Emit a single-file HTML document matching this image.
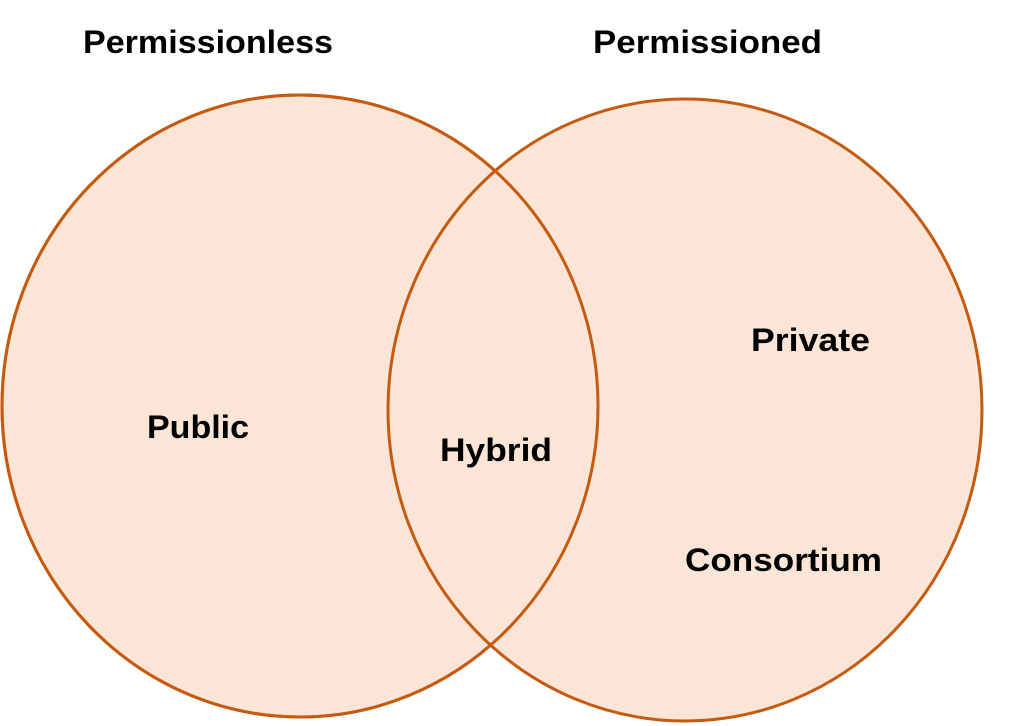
<!DOCTYPE html>
<html><head><style>
html,body{margin:0;padding:0;background:#fff;}
svg{display:block}
text{font-family:"Liberation Sans",sans-serif;font-weight:bold;fill:#000;}
</style></head><body>
<svg width="1024" height="726" viewBox="0 0 1024 726">
<ellipse cx="300" cy="406" rx="298" ry="311" fill="#FBE5D6" stroke="#C55A11" stroke-width="3"/>
<ellipse cx="685" cy="410" rx="297" ry="311" fill="#FBE5D6" stroke="#C55A11" stroke-width="3"/>
<ellipse cx="300" cy="406" rx="298" ry="311" fill="none" stroke="#C55A11" stroke-width="3"/>
<text x="83" y="53" font-size="32" textLength="250" lengthAdjust="spacingAndGlyphs">Permissionless</text>
<text x="593" y="53" font-size="32" textLength="229" lengthAdjust="spacingAndGlyphs">Permissioned</text>
<text x="147" y="438" font-size="32" textLength="102" lengthAdjust="spacingAndGlyphs">Public</text>
<text x="440" y="461" font-size="32" textLength="112" lengthAdjust="spacingAndGlyphs">Hybrid</text>
<text x="751" y="351" font-size="32" textLength="119" lengthAdjust="spacingAndGlyphs">Private</text>
<text x="685" y="571" font-size="32" textLength="197" lengthAdjust="spacingAndGlyphs">Consortium</text>
</svg>
</body></html>
